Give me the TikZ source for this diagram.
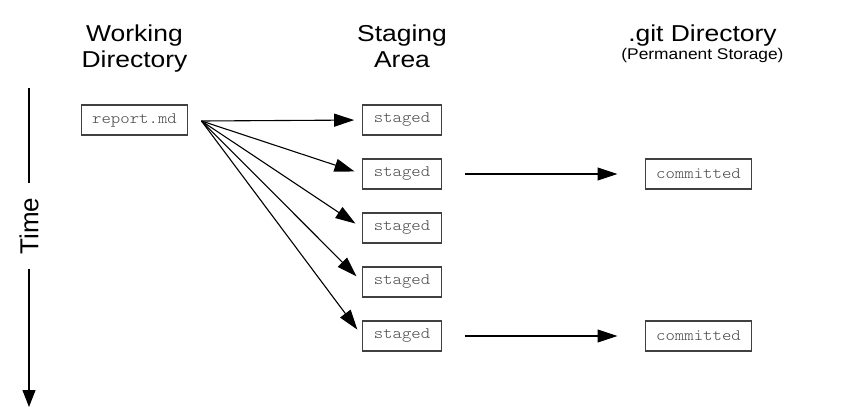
\documentclass[tikz,border=0pt]{standalone}
\usepackage{fontspec}
\usepackage{tikz}
\usepackage{xcolor}
\usetikzlibrary{positioning}
\usetikzlibrary{arrows.meta}
\setmainfont{Liberation Sans}
\newfontfamily\headfont[FakeStretch=1.15]{Liberation Sans}
\newfontfamily\subfont[FakeStretch=1.12]{Liberation Sans}
\newfontfamily\boxfont[FakeStretch=1.12]{lmmonolt10-regular.otf}
\newcommand{\headtext}{\headfont\fontsize{23}{26}\selectfont}
\newcommand{\subtext}{\subfont\fontsize{15.5}{18}\selectfont}
\newcommand{\boxtext}{\boxfont\fontsize{16}{18}\selectfont}
\definecolor{boxgray}{HTML}{404040}
\definecolor{textgray}{HTML}{444444}
\tikzstyle{filebox} = [rectangle, minimum height=30pt, inner xsep=11pt, draw=boxgray, line width=1.3pt, text=textgray, font=\boxtext]
\tikzstyle{header} = [align=center, anchor=north, font=\headtext]
\tikzstyle{arrow} = [line width=1.1pt, -{Triangle[length=20pt, width=13pt]}]
\begin{document}
\begin{tikzpicture}[node distance=54pt]
        \useasboundingbox (0,0) rectangle (860pt,-413pt);
        \node (report) [filebox] at (134.5pt,-120pt) {report.md};
        \node (stagedA) [filebox, right of=report, xshift=213.5pt] {staged};
        \node (stagedB) [filebox, below of=stagedA] {staged};
        \node (stagedC) [filebox, below of=stagedB] {staged};
        \node (stagedD) [filebox, below of=stagedC] {staged};
        \node (stagedE) [filebox, below of=stagedD] {staged};
        \node (commitB) [filebox, right of=stagedB, xshift=242.5pt] {committed};
        \node (commitE) [filebox, right of=stagedE, xshift=242.5pt] {committed};

        % column titles
        \coordinate (headLine) at (0,-21pt);
        \node (workHead) [header] at (report |- headLine) {Working\\Directory};
        \node (stageHead) [header] at (stagedA |- headLine) {Staging\\Area};
        \node (gitHead) [header] at ([xshift=4pt]commitB |- headLine) {.git Directory\\[-8pt]{\subtext (Permanent Storage)}};

        % time axis
        \node (time) [rotate=90, inner xsep=14pt, font=\fontsize{26}{30}\selectfont] at (29pt,-226pt) {Time};
        \coordinate (timeTop) at (29pt,-88pt);
        \coordinate (timeEnd) at (29pt,-407pt);
        \draw [line width=1.1pt] (timeTop) -- (time);
        \draw [line width=1.1pt, -{Triangle[length=17pt, width=13pt]}] (time) -- (timeEnd);

        \coordinate (fan) at ([xshift=13pt, yshift=-1pt]report.east);
        \foreach \s in {stagedA, stagedB, stagedC, stagedD, stagedE}
            \draw [arrow, shorten >=8pt] (fan) -- (\s.west);
        \draw [arrow, shorten <=23pt, shorten >=27pt] (stagedB.east) -- (commitB.west);
        \draw [arrow, shorten <=23pt, shorten >=27pt] (stagedE.east) -- (commitE.west);
    \end{tikzpicture}
\end{document}
